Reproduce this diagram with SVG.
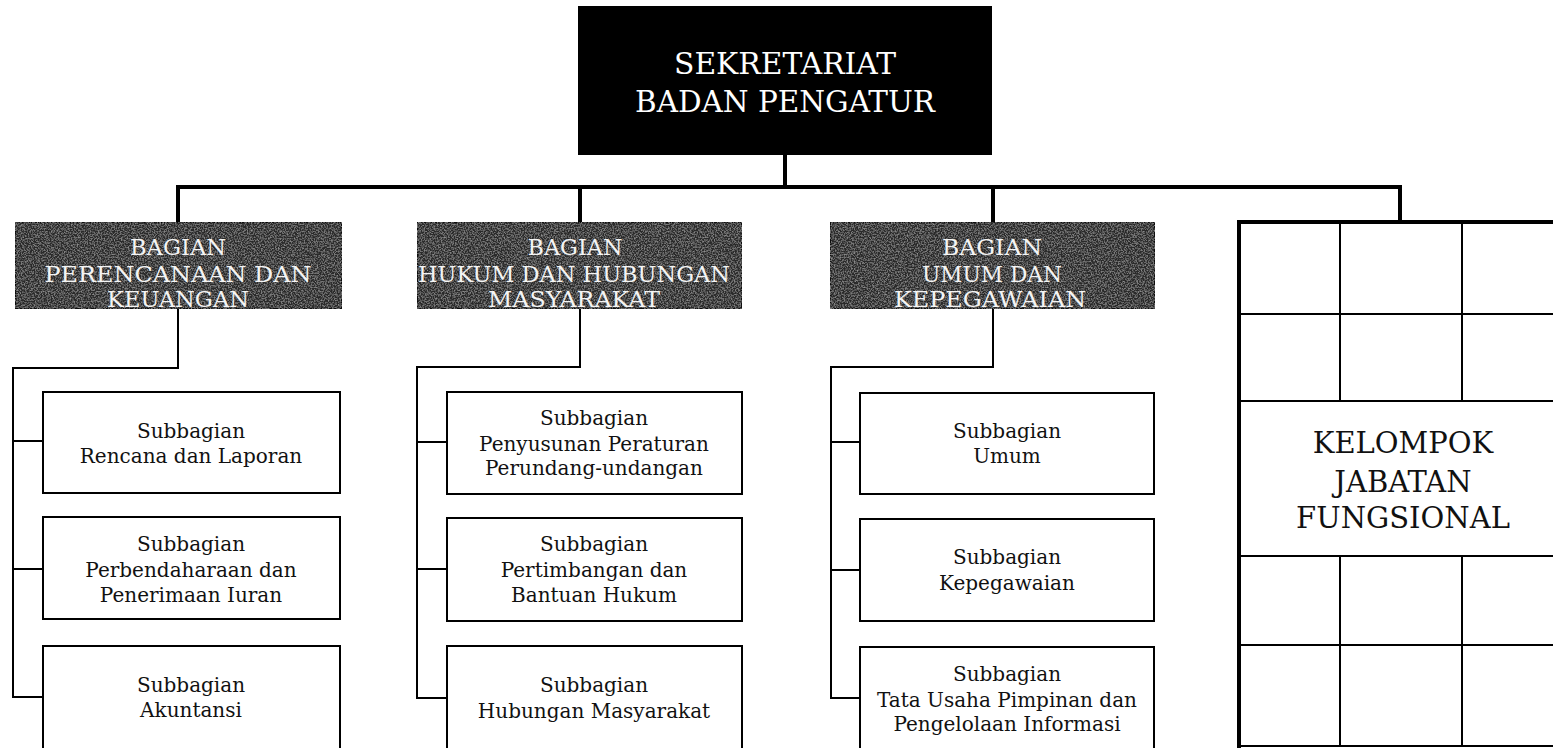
<svg xmlns="http://www.w3.org/2000/svg" width="1553" height="748" viewBox="0 0 1553 748">
<style>
.ln{stroke:#000;fill:none;stroke-width:2}
.thk{stroke:#000;fill:none;stroke-width:4}
.sub{fill:#fff;stroke:#000;stroke-width:2}
.bag{fill:#2a2a2a;stroke:#111;stroke-width:2}
.grid{stroke:#000;stroke-width:2;fill:none}
.st{font-family:"DejaVu Serif","Liberation Serif",serif;font-size:20px;fill:#111;text-anchor:middle}
.bt{font-family:"DejaVu Serif","Liberation Serif",serif;font-size:22px;fill:#f4f4f4;text-anchor:middle}
.tt{font-family:"DejaVu Serif","Liberation Serif",serif;font-size:30px;fill:#fff;text-anchor:middle}
.kt{font-family:"DejaVu Serif","Liberation Serif",serif;font-size:29px;fill:#111;text-anchor:middle}
</style>
<defs>
<filter id="grain" x="0" y="0" width="1" height="1">
<feTurbulence type="fractalNoise" baseFrequency="0.7" numOctaves="2" seed="7" result="n"/>
<feColorMatrix in="n" type="matrix" values="0 0 0 0 0.5 0 0 0 0 0.5 0 0 0 0 0.5 1.3 0 0 0 -0.55" result="s"/>
<feComposite in="s" in2="SourceGraphic" operator="in" result="c"/>
<feMerge><feMergeNode in="SourceGraphic"/><feMergeNode in="c"/></feMerge>
</filter>
</defs>
<rect width="1553" height="748" fill="#fff"/>

<g id="connectors">
<line class="thk" x1="785" y1="155" x2="785" y2="187"/>
<line class="thk" x1="176" y1="187" x2="1402" y2="187"/>
<line class="thk" x1="178" y1="185" x2="178" y2="222"/>
<line class="thk" x1="580" y1="185" x2="580" y2="222"/>
<line class="thk" x1="993" y1="185" x2="993" y2="222"/>
<line class="thk" x1="1400" y1="185" x2="1400" y2="222"/>
<polyline class="ln" points="178,309 178,368 13,368 13,697 43,697"/>
<line class="ln" x1="13" y1="441" x2="43" y2="441"/>
<line class="ln" x1="13" y1="569" x2="43" y2="569"/>
<polyline class="ln" points="580,309 580,367 417,367 417,698 447,698"/>
<line class="ln" x1="417" y1="442" x2="447" y2="442"/>
<line class="ln" x1="417" y1="569" x2="447" y2="569"/>
<polyline class="ln" points="993,309 993,367 831,367 831,698 860,698"/>
<line class="ln" x1="831" y1="442" x2="860" y2="442"/>
<line class="ln" x1="831" y1="570" x2="860" y2="570"/>
</g>

<g id="sekretariat">
<rect x="578" y="6" width="414" height="149" fill="#000"/>
<text class="tt" x="785" y="74" textLength="222" lengthAdjust="spacingAndGlyphs">SEKRETARIAT</text>
<text class="tt" x="785" y="112" textLength="300" lengthAdjust="spacingAndGlyphs">BADAN PENGATUR</text>
</g>

<g id="bagian-perencanaan">
<rect class="bag" x="15" y="222" width="327" height="87" filter="url(#grain)"/>
<text class="bt" x="178" y="255" textLength="96" lengthAdjust="spacingAndGlyphs">BAGIAN</text>
<text class="bt" x="178" y="282" textLength="267" lengthAdjust="spacingAndGlyphs">PERENCANAAN DAN</text>
<text class="bt" x="178" y="307" textLength="142" lengthAdjust="spacingAndGlyphs">KEUANGAN</text>
</g>

<g id="bagian-hukum">
<rect class="bag" x="417" y="222" width="325" height="87" filter="url(#grain)"/>
<text class="bt" x="575" y="255" textLength="95" lengthAdjust="spacingAndGlyphs">BAGIAN</text>
<text class="bt" x="574" y="282" textLength="312" lengthAdjust="spacingAndGlyphs">HUKUM DAN HUBUNGAN</text>
<text class="bt" x="574" y="307" textLength="172" lengthAdjust="spacingAndGlyphs">MASYARAKAT</text>
</g>

<g id="bagian-umum">
<rect class="bag" x="830" y="222" width="325" height="87" filter="url(#grain)"/>
<text class="bt" x="992" y="255" textLength="100" lengthAdjust="spacingAndGlyphs">BAGIAN</text>
<text class="bt" x="992" y="282" textLength="140" lengthAdjust="spacingAndGlyphs">UMUM DAN</text>
<text class="bt" x="990" y="307" textLength="192" lengthAdjust="spacingAndGlyphs">KEPEGAWAIAN</text>
</g>

<g id="sub-rencana">
<rect class="sub" x="43" y="392" width="297" height="101"/>
<text class="st" x="191" y="438">Subbagian</text>
<text class="st" x="191" y="463">Rencana dan Laporan</text>
</g>
<g id="sub-perbendaharaan">
<rect class="sub" x="43" y="517" width="297" height="102"/>
<text class="st" x="191" y="551">Subbagian</text>
<text class="st" x="191" y="577">Perbendaharaan dan</text>
<text class="st" x="191" y="602">Penerimaan Iuran</text>
</g>
<g id="sub-akuntansi">
<rect class="sub" x="43" y="646" width="297" height="104"/>
<text class="st" x="191" y="692">Subbagian</text>
<text class="st" x="191" y="717">Akuntansi</text>
</g>

<g id="sub-penyusunan">
<rect class="sub" x="447" y="392" width="295" height="102"/>
<text class="st" x="594" y="425">Subbagian</text>
<text class="st" x="594" y="451">Penyusunan Peraturan</text>
<text class="st" x="594" y="475">Perundang-undangan</text>
</g>
<g id="sub-pertimbangan">
<rect class="sub" x="447" y="518" width="295" height="103"/>
<text class="st" x="594" y="551">Subbagian</text>
<text class="st" x="594" y="577">Pertimbangan dan</text>
<text class="st" x="594" y="602">Bantuan Hukum</text>
</g>
<g id="sub-humas">
<rect class="sub" x="447" y="646" width="295" height="104"/>
<text class="st" x="594" y="692">Subbagian</text>
<text class="st" x="594" y="718">Hubungan Masyarakat</text>
</g>

<g id="sub-umum">
<rect class="sub" x="860" y="393" width="294" height="101"/>
<text class="st" x="1007" y="438">Subbagian</text>
<text class="st" x="1007" y="463">Umum</text>
</g>
<g id="sub-kepegawaian">
<rect class="sub" x="860" y="519" width="294" height="102"/>
<text class="st" x="1007" y="564">Subbagian</text>
<text class="st" x="1007" y="590">Kepegawaian</text>
</g>
<g id="sub-tatausaha">
<rect class="sub" x="860" y="647" width="294" height="103"/>
<text class="st" x="1007" y="681">Subbagian</text>
<text class="st" x="1007" y="707">Tata Usaha Pimpinan dan</text>
<text class="st" x="1007" y="731">Pengelolaan Informasi</text>
</g>

<g id="kelompok-jabatan-fungsional">
<rect x="1238" y="222" width="330" height="524" fill="#fff" stroke="none"/>
<line class="grid" x1="1238" y1="314" x2="1553" y2="314"/>
<line class="grid" x1="1238" y1="401" x2="1553" y2="401"/>
<line class="grid" x1="1238" y1="556" x2="1553" y2="556"/>
<line class="grid" x1="1238" y1="645" x2="1553" y2="645"/>
<line class="grid" x1="1238" y1="746" x2="1553" y2="746"/>
<line class="grid" x1="1340" y1="222" x2="1340" y2="401"/>
<line class="grid" x1="1462" y1="222" x2="1462" y2="401"/>
<line class="grid" x1="1340" y1="556" x2="1340" y2="746"/>
<line class="grid" x1="1462" y1="556" x2="1462" y2="746"/>
<line class="thk" x1="1238" y1="222" x2="1553" y2="222"/>
<line class="thk" x1="1239" y1="220" x2="1239" y2="748"/>
<text class="kt" x="1403" y="453">KELOMPOK</text>
<text class="kt" x="1403" y="492">JABATAN</text>
<text class="kt" x="1403" y="528">FUNGSIONAL</text>
</g>
</svg>
